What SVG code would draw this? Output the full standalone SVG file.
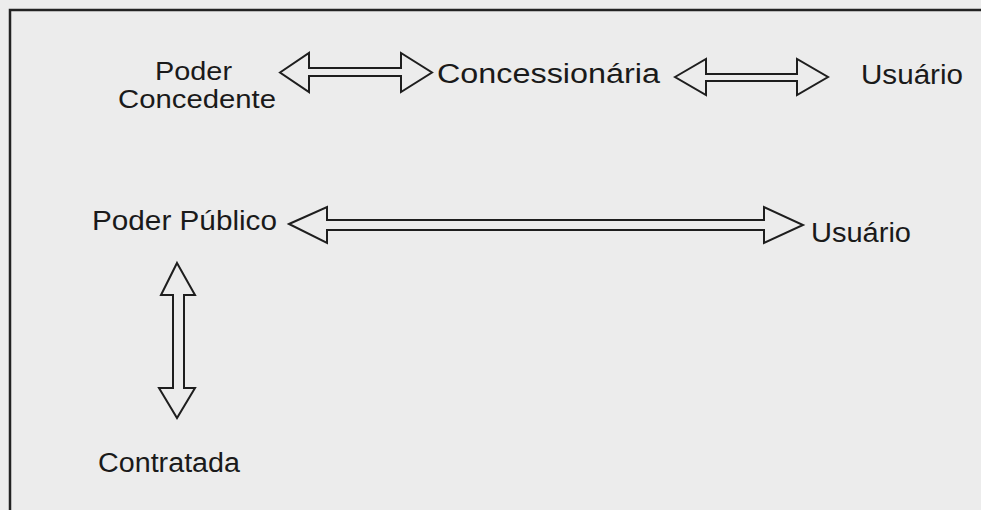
<svg xmlns="http://www.w3.org/2000/svg" width="981" height="510" viewBox="0 0 981 510">
<style>
.bg{fill:#ececec}
.frame{fill:none;stroke:#222;stroke-width:2.5}
.lbl{font-family:"Liberation Sans",Arial,sans-serif;font-size:27px;fill:#1a1a1a}
.two{font-size:25px}
.arr{fill:#ececec;stroke:#1e1e1e;stroke-width:2;stroke-linejoin:miter}
</style>
<rect class="bg" x="0" y="0" width="981" height="510"/>
<path class="frame" d="M10,510 V10 H981"/>
<g id="connectors">
<polygon class="arr" points="280,72.5 309,53 309,68 401,68 401,53 432,72.5 401,92 401,76 309,76 309,92"/>
<polygon class="arr" points="675,77 706,59 706,74 797,74 797,59 828,77 797,95 797,81 706,81 706,95"/>
<polygon class="arr" points="289,224 327,207 327,220 764,220 764,207 803,225 764,243 764,230 327,230 327,243"/>
<polygon class="arr" points="177,263 195,295 184,295 184,388 195,388 177,418 159,388 173,388 173,295 161,295"/>
</g>
<g id="poder-concedente">
<text class="lbl two" x="155" y="80" textLength="77" lengthAdjust="spacingAndGlyphs">Poder</text>
<text class="lbl two" x="118" y="108" textLength="158" lengthAdjust="spacingAndGlyphs">Concedente</text>
</g>
<g id="concessionaria">
<text class="lbl" x="437" y="83" textLength="223" lengthAdjust="spacingAndGlyphs">Concessionária</text>
</g>
<g id="usuario-1">
<text class="lbl" x="861" y="84" textLength="102" lengthAdjust="spacingAndGlyphs">Usuário</text>
</g>
<g id="poder-publico">
<text class="lbl" x="92" y="230" textLength="185" lengthAdjust="spacingAndGlyphs">Poder Público</text>
</g>
<g id="usuario-2">
<text class="lbl" x="811" y="242" textLength="100" lengthAdjust="spacingAndGlyphs">Usuário</text>
</g>
<g id="contratada">
<text class="lbl" x="98" y="472" textLength="142" lengthAdjust="spacingAndGlyphs">Contratada</text>
</g>
</svg>
